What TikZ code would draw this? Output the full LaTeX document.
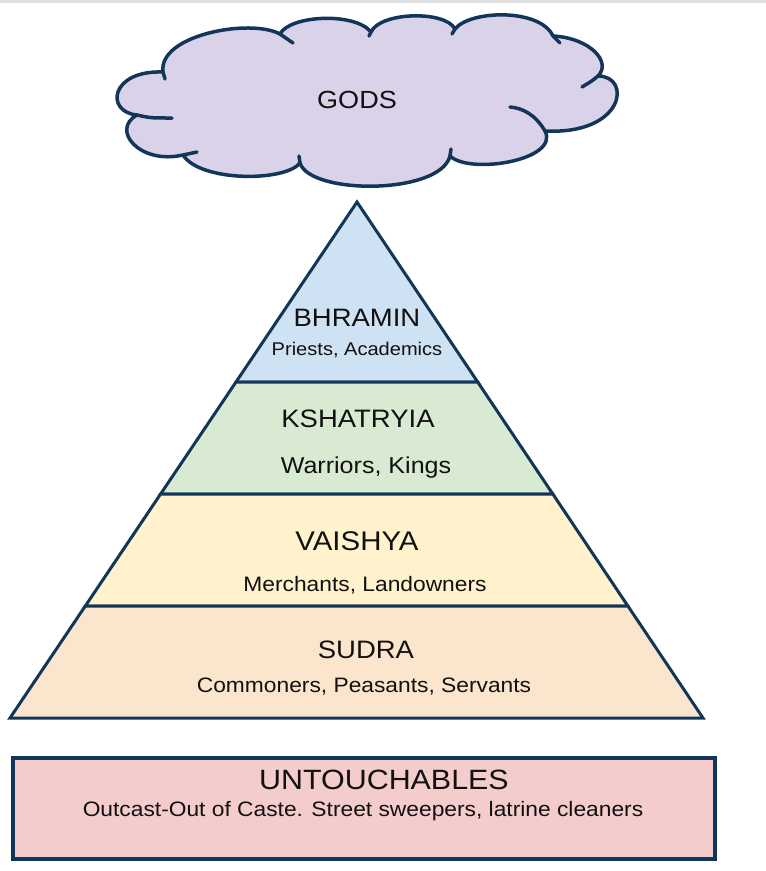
\documentclass[tikz,border=0pt]{standalone}
\usepackage{fontspec}
\setmainfont{Liberation Sans}[FakeStretch=1.09]
\definecolor{edge}{HTML}{12355A}
\definecolor{cloudc}{HTML}{D9D2E9}
\definecolor{bhr}{HTML}{CFE2F3}
\definecolor{ksh}{HTML}{D9EAD3}
\definecolor{vai}{HTML}{FFF2CC}
\definecolor{sud}{HTML}{FCE5CD}
\definecolor{unt}{HTML}{F4CCCC}
\definecolor{ink}{HTML}{111111}
\begin{document}
\begin{tikzpicture}[x=1pt,y=-1pt,
  layer/.style={draw=edge, line width=3pt},
  cloudline/.style={draw=edge, line width=3.5pt, line cap=round, line join=round},
  ttl/.style={anchor=base, inner sep=0pt, text=ink, font=\fontsize{25.2}{30}\selectfont},
  sub/.style={anchor=base, inner sep=0pt, text=ink, font=\fontsize{20.9}{25}\selectfont}]
\useasboundingbox (0,0) rectangle (766,871);
\fill[black!12] (0,0) rectangle (766,2.5);
% cloud
\path[fill=cloudc, cloudline]
 (163,72) .. controls (158,35) and (250,18) .. (280,34)
 .. controls (290,15) and (355,12) .. (371,32)
 .. controls (380,12) and (445,10) .. (455,29)
 .. controls (470,10) and (540,8) .. (553,36)
 .. controls (590,38) and (612,62) .. (598,76)
 .. controls (632,76) and (625,135) .. (545,131)
 .. controls (560,160) and (470,175) .. (450,156)
 .. controls (440,195) and (310,195) .. (300,163)
 .. controls (285,182) and (200,182) .. (183,155)
 .. controls (140,165) and (110,130) .. (137,115)
 .. controls (105,112) and (110,70) .. (163,72) -- cycle;
\draw[cloudline] (163,72) .. controls (164,75) .. (165,79);
\draw[cloudline] (280,34) .. controls (287,38) .. (293,43);
\draw[cloudline] (371,32) .. controls (370,34) .. (369,36);
\draw[cloudline] (455,29) .. controls (454,31) .. (452,34);
\draw[cloudline] (553,36) .. controls (557,39) .. (560,43);
\draw[cloudline] (598,76) .. controls (592,81) .. (582,87);
\draw[cloudline] (545,131) .. controls (535,114) and (522,108) .. (510,107);
\draw[cloudline] (450,156) .. controls (450,152) .. (451,149);
\draw[cloudline] (300,163) .. controls (300,160) .. (299,156);
\draw[cloudline] (183,155) .. controls (190,153) .. (197,152);
\draw[cloudline] (137,115) .. controls (150,118) .. (172,118);
\node[ttl, font=\fontsize{24.8}{30}\selectfont] (gods) at (357,108.3) {GODS};
% pyramid
\path[layer, fill=bhr] (357,202) -- (477.7,382) -- (236,382) -- cycle;
\path[layer, fill=ksh] (236,382) -- (477.7,382) -- (552.8,494) -- (160.6,494) -- cycle;
\path[layer, fill=vai] (160.6,494) -- (552.8,494) -- (627.9,606) -- (85.3,606) -- cycle;
\path[layer, fill=sud] (85.3,606) -- (627.9,606) -- (703,718) -- (10,718) -- cycle;
\node[ttl] (bhramin) at (357,326.7) {BHRAMIN};
\node[sub, font=\fontsize{18.4}{22}\selectfont] (priests) at (357,355.7) {Priests, Academics};
\node[ttl] (kshatryia) at (358,427.3) {KSHATRYIA};
\node[sub, font=\fontsize{23}{27}\selectfont] (warriors) at (366,473.3) {Warriors, Kings};
\node[ttl, font=\fontsize{27}{32}\selectfont] (vaishya) at (357,550.7) {VAISHYA};
\node[sub] (merchants) at (365,591.7) {Merchants, Landowners};
\node[ttl] (sudra) at (366,658) {SUDRA};
\node[sub] (commoners) at (364,692) {Commoners, Peasants, Servants};
% untouchables
\path[draw=edge, line width=4pt, fill=unt] (12.5,757.5) rectangle (714.5,858.5);
\node[ttl, font=\fontsize{27.9}{33}\selectfont] (untouch) at (384,789.5) {UNTOUCHABLES};
\node[sub] (outcast) at (363,816.7) {Outcast-Out of Caste. Street sweepers, latrine cleaners};
\end{tikzpicture}
\end{document}
